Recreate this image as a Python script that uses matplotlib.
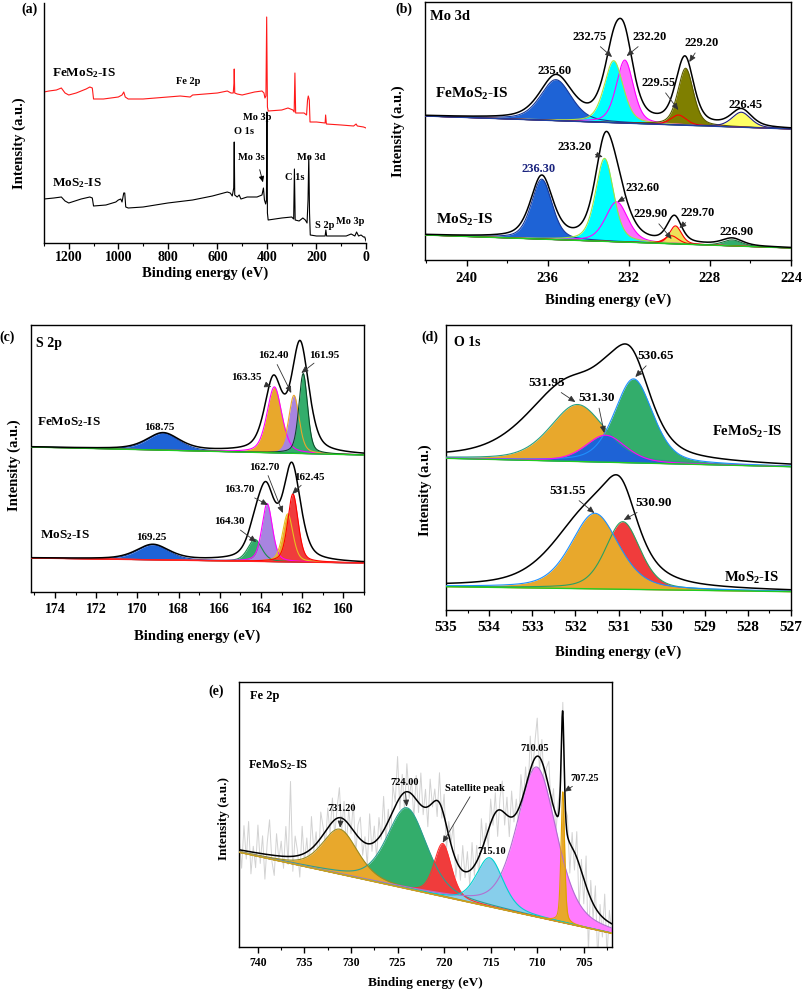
import matplotlib.pyplot as plt
import numpy as np
from matplotlib.ticker import MultipleLocator

plt.rcParams['font.family'] = ['Liberation Serif', 'DejaVu Serif']
plt.rcParams['font.weight'] = 'bold'
plt.rcParams['mathtext.fontset'] = 'custom'
plt.rcParams['mathtext.rm'] = 'Liberation Serif:bold'
plt.rcParams['mathtext.bf'] = 'Liberation Serif:bold'
plt.rcParams['mathtext.default'] = 'rm'
plt.rcParams['axes.linewidth'] = 1.0

W, H = 803, 992
FE = r'FeMoS$_2$-IS'
MO = r'MoS$_2$-IS'

# ---------------- (a) survey spectra (binding energy, intensity) ----------------
sv_fe_be = [1300, 1280, 1250, 1230, 1215, 1200, 1170, 1130, 1115, 1105, 1100, 1060, 1000, 985, 978, 972,
            960, 900, 850, 800, 750, 710, 700, 650, 600, 560, 545, 536, 533, 532, 530, 520, 500, 450,
            420, 412, 408, 404, 401, 398, 395, 340, 315, 295, 290, 287, 284, 260, 250, 240, 236, 233,
            229, 226, 200, 165, 163, 160, 100, 50, 40, 35, 10, 0]
sv_fe_int = [151, 152, 153, 155, 150, 148, 150, 154, 156, 155, 144, 144, 146, 148, 151, 146,
             144, 144, 145, 146, 147, 146, 148, 149, 150, 152, 150, 150, 160, 174, 150, 149, 148, 151,
             152, 150, 145, 147, 226, 136, 132, 133, 135, 133, 131, 170, 130, 130, 130, 128, 143, 147,
             143, 121, 121, 120, 128, 119, 118, 117, 119, 117, 116, 115]
sv_mo_be = [1300, 1260, 1230, 1215, 1200, 1150, 1115, 1105, 1100, 1050, 1010, 1000, 990, 985, 978, 974,
            970, 960, 900, 800, 700, 620, 560, 548, 540, 534, 532, 530, 520, 512, 505, 480, 440, 420,
            414, 410, 405, 402, 400, 398, 395, 340, 300, 292, 289, 286, 270, 255, 245, 238, 234, 231,
            228, 225, 200, 165, 162, 159, 80, 60, 45, 38, 30, 20, 10, 5, 0]
sv_mo_int = [44, 45, 46, 42, 40, 44, 46, 45, 37, 38, 41, 43, 44, 41, 50, 50,
             36, 35, 36, 40, 43, 47, 51, 50, 47, 55, 101, 48, 46, 48, 44, 46, 46, 48,
             55, 43, 39, 43, 131, 30, 23, 25, 26, 24, 74, 23, 22, 25, 23, 20, 43, 87,
             30, 8, 7, 7, 13, 7, 7, 9, 7, 11, 7, 8, 6, 6, 2]
sv_labels = ['Fe 2p', 'Mo 3p', 'O 1s', 'Mo 3s', 'C 1s', 'Mo 3d', 'S 2p', 'Mo 3p']
sv_label_xy = [(719, 161), (440, 125), (493, 111), (464, 86), (287, 65), (222, 86), (167, 18), (65, 21)]

# ---------------- (b) Mo 3d ----------------
mo3d_fe_bg = [144, 131]
mo3d_fe_c = [235.60, 232.20, 232.75, 229.20, 229.55, 226.45]
mo3d_fe_h = [41, 63, 62, 57, 10, 15]
mo3d_fe_w = [1.8, 1.0, 1.1, 0.9, 0.9, 1.1]
mo3d_fe_env_h = [44, 62, 60, 60, 10, 17]
mo3d_fe_env_w = [1.9, 1.1, 1.2, 1.0, 0.9, 1.2]
mo3d_mo_bg = [25, 12]
mo3d_mo_c = [236.30, 232.60, 233.20, 229.90, 229.70, 226.90]
mo3d_mo_h = [60, 40, 83, 8, 18, 6]
mo3d_mo_w = [1.2, 1.3, 1.05, 0.8, 0.7, 1.1]
mo3d_mo_env_h = [62, 42, 82, 8, 19, 7]
mo3d_mo_env_w = [1.3, 1.4, 1.15, 0.8, 0.8, 1.2]

# ---------------- (c) S 2p ----------------
s2p_fe_bg = [145, 137]
s2p_fe_c = [168.75, 163.35, 162.40, 161.95]
s2p_fe_h = [17, 66, 58, 80]
s2p_fe_w = [1.8, 0.85, 0.6, 0.5]
s2p_fe_env_c = [168.75, 163.40, 162.10]
s2p_fe_env_h = [17, 70, 108]
s2p_fe_env_w = [1.9, 1.0, 1.0]
s2p_mo_bg = [34, 29]
s2p_mo_c = [169.25, 164.30, 163.70, 162.70, 162.45]
s2p_mo_h = [15, 22, 58, 48, 68]
s2p_mo_w = [1.8, 0.8, 0.6, 0.6, 0.6]
s2p_mo_env_c = [169.25, 164.30, 163.75, 162.50]
s2p_mo_env_h = [15, 20, 65, 94]
s2p_mo_env_w = [1.9, 0.9, 1.0, 1.0]

# ---------------- (d) O 1s ----------------
o1s_fe_bg = [151.7, 143.3]
o1s_fe_c = [531.95, 530.65, 531.30]
o1s_fe_h = [57, 84, 27]
o1s_fe_w = [1.5, 1.05, 1.1]
o1s_fe_env_c = [532.2, 531.3, 530.7]
o1s_fe_env_h = [72, 25, 80]
o1s_fe_env_w = [2.2, 1.2, 1.1]
o1s_mo_bg = [23.3, 18.3]
o1s_mo_c = [530.90, 531.55]
o1s_mo_h = [67.6, 75.6]
o1s_mo_w = [0.95, 1.3]
o1s_mo_env_c = [531.65, 530.95]
o1s_mo_env_h = [76, 60]
o1s_mo_env_w = [1.95, 0.9]

# ---------------- (e) Fe 2p ----------------
fe2p_bg = [94.7, 13.7]
fe2p_c = [724.00, 731.20, 720.15, 710.05, 715.10, 707.25]
fe2p_h = [81, 45, 53, 150, 49, 131]
fe2p_w = [5.0, 4.5, 2.2, 5.0, 3.4, 0.45]
fe2p_env_c = [731.2, 724.0, 720.5, 714.3, 709.9, 707.27, 706.0]
fe2p_env_h = [50, 88, 60, 75, 150, 127, 45]
fe2p_env_w = [4.5, 5.0, 2.6, 3.5, 4.2, 0.4, 3.0]
# raw counts scatter about the fit, read every 0.25 eV from 742 eV
fe2p_raw_dev = [10, -18, 25, -8, 30, -22, 6, -15, 28, -10, 18, -25, 12, 35, -6, -20, 22, -4, 15, -12,
                30, -8, 75, -15, 20, 5, -22, 28, -10, 14, -18, 32, -5, 12, -24, 26, 8, -14, 20, -9,
                24, -16, 10, 30, -12, 18, -25, 15, -6, 28, -20, 12, 22, -14, 6, -22, 30, -8, 16, -18,
                20, -5, 34, -15, 12, -24, 26, 4, 45, -12, 20, -18, 28, -6, 14, -22, 24, -10, 32, -8,
                18, -20, 26, -4, 12, -16, 30, -10, 22, -24, 14, 2, 28, -18, 10, -12, 25, -6, 20, -15,
                26, -10, 16, -22, 32, -4, 14, -18, 24, -8, 20, -26, 12, 30, -12, 18, -20, 26, -6, 14,
                -16, 28, -8, 20, -22, 34, -10, 16, 38, -14, 22, -18, 10, 26, -12, 18, -20, 14, -6, 10,
                -8, 20, -30, 15, -18, 26, -45, 12, -25, 30, -60, 18, -15, 22, -50, 10, -20, 25, -35, 12,
                -10]

BLUE, CYAN, MAG, OLIVE, YEL = '#1E63D6', '#00FFFF', '#FF6EFF', '#7F7F00', '#FFFF66'
GREEN, ORANGE, PURPLE, RED, SKY = '#33AD6B', '#E8A82C', '#A884E0', '#F03C3C', '#87CEEB'


def pv(x, c, h, w, eta):
    u = 4.0 * (x - c) ** 2 / w ** 2
    return h * (eta / (1 + u) + (1 - eta) * np.exp(-np.log(2) * u))


def px_axes(fig, l, t, r, b):
    return fig.add_axes([l / W, 1 - b / H, (r - l) / W, (b - t) / H])


def spectrum(ax, x, bg_ends, cs, hs, ws, faces, edges, ec, eh, ew, bgcol='#22CC22'):
    bg = bg_ends[0] + (bg_ends[1] - bg_ends[0]) * (x - x[0]) / (x[-1] - x[0])
    curves = []
    for c, h, w, f in zip(cs, hs, ws, faces):
        y = bg + pv(x, c, h, w, 0.4)
        if f is not None:
            ax.fill_between(x, bg, y, color=f, lw=0, zorder=2)
        curves.append(y)
    for y, e in zip(curves, edges):
        ax.plot(x, y, color=e, lw=0.8, zorder=3)
    env = bg.copy()
    for c, h, w in zip(ec, eh, ew):
        env += pv(x, c, h, w, 0.5)
    ax.plot(x, bg, color=bgcol, lw=1.0, zorder=3)
    ax.plot(x, env, color='black', lw=1.1, zorder=4)
    return bg, env


def peak_labels(ax, texts, txt_xy, tips, fs, color='black', acol='#333333'):
    for t, xy, tip in zip(texts, txt_xy, tips):
        if tip is None:
            ax.text(xy[0], xy[1], t, ha='center', va='center', fontsize=fs, color=color, zorder=6)
        else:
            ax.annotate(t, xy=tip, xytext=xy, ha='center', va='center', fontsize=fs, color=color,
                        zorder=6, arrowprops=dict(arrowstyle='-|>,head_length=0.5,head_width=0.22',
                                                  mutation_scale=8, color=acol, lw=0.6,
                                                  shrinkA=1, shrinkB=0))


def ticks(ax, major, minor, fs, pad):
    ax.xaxis.set_major_locator(MultipleLocator(major))
    ax.xaxis.set_minor_locator(MultipleLocator(minor))
    ax.tick_params(axis='x', which='major', direction='out', length=4, width=1, labelsize=fs, pad=pad)
    ax.tick_params(axis='x', which='minor', direction='out', length=2.5, width=0.8)
    ax.set_yticks([])


def ftext(x, y, s, fs, **kw):
    fig.text(x / W, 1 - y / H, s, fontsize=fs, ha='center', va='center', **kw)


fig = plt.figure(figsize=(W / 100, H / 100), dpi=100)

# ---- (a)
ax = px_axes(fig, 44, 3, 366, 243)
ax.plot(sv_fe_be, sv_fe_int, color='#FF1A1A', lw=0.8)
ax.plot(sv_mo_be, sv_mo_int, color='black', lw=0.8)
ax.set_xlim(1300, 0)
ax.set_ylim(0, 240)
ax.spines[['top', 'right']].set_visible(False)
ticks(ax, 200, 100, 10, 2)
ax.text(1268, 170, FE, fontsize=9.5, ha='left', va='center')
ax.text(1268, 60, MO, fontsize=9.5, ha='left', va='center')
for s, xy in zip(sv_labels, sv_label_xy):
    ax.text(xy[0], xy[1], s, fontsize=7.5, ha='center', va='center')
ax.annotate('', xy=(413, 58), xytext=(432, 76),
            arrowprops=dict(arrowstyle='-|>,head_length=0.5,head_width=0.22', mutation_scale=7,
                            color='black', lw=0.6))
ftext(29.5, 9, '(a)', 10)
ftext(19, 143, 'Intensity (a.u.)', 10.5, rotation=90)
ftext(205, 273, 'Binding energy (eV)', 10.5)

# ---- (b)
ax = px_axes(fig, 425, 2, 791, 260)
x = np.linspace(242.06, 224, 1500)
spectrum(ax, x, mo3d_fe_bg, mo3d_fe_c, mo3d_fe_h, mo3d_fe_w,
         [BLUE, MAG, CYAN, OLIVE, None, YEL], ['#1A3A9A', '#FF00FF', '#B0E040', '#5A5A00', '#FF0000', '#202080'],
         mo3d_fe_c, mo3d_fe_env_h, mo3d_fe_env_w, bgcol='#2040A0')
spectrum(ax, x, mo3d_mo_bg, mo3d_mo_c, mo3d_mo_h, mo3d_mo_w,
         [BLUE, MAG, CYAN, RED, '#EEE05A', GREEN], ['#1A3A9A', '#FF00FF', '#A0E040', '#FF0000', '#FF0000', '#207040'],
         mo3d_mo_c, mo3d_mo_env_h, mo3d_mo_env_w, bgcol='#22CC22')
ax.set_xlim(242.06, 224)
ax.set_ylim(0, 258)
ticks(ax, 4, 2, 10.5, 5)
ax.text(241.8, 244, 'Mo 3d', fontsize=10.5, ha='left', va='center')
ax.text(241.57, 166, FE, fontsize=11, ha='left', va='center')
ax.text(241.5, 40, MO, fontsize=11, ha='left', va='center')
peak_labels(ax, ['%.2f' % c for c in [235.60, 232.75, 232.20, 229.55, 229.20, 226.45]],
            [(235.65, 189), (233.95, 223), (230.96, 223), (230.55, 177), (228.41, 217), (226.22, 155)],
            [None, (232.83, 203), (232.11, 204), (229.56, 150), (229.02, 198), None], 9)
peak_labels(ax, ['%.2f' % c for c in [236.30]], [(236.47, 91)], [None], 9, color='#1A237E')
peak_labels(ax, ['%.2f' % c for c in [233.20, 232.60, 229.90, 229.70, 226.90]],
            [(234.7, 113), (231.32, 72), (230.93, 46), (228.63, 47), (226.68, 28)],
            [(233.29, 103), (232.57, 58), (229.89, 21), (229.51, 32), None], 9)
ftext(404, 9, '(b)', 10)
ftext(398, 131, 'Intensity (a.u.)', 10.5, rotation=90)
ftext(608, 300, 'Binding energy (eV)', 10.5)

# ---- (c)
ax = px_axes(fig, 31, 325, 364, 592)
x = np.linspace(175.16, 159, 1500)
spectrum(ax, x, s2p_fe_bg, s2p_fe_c, s2p_fe_h, s2p_fe_w,
         [BLUE, ORANGE, PURPLE, GREEN], ['#1A4AB0', '#FF00FF', '#E8A82C', '#0C4A2A'],
         s2p_fe_env_c, s2p_fe_env_h, s2p_fe_env_w)
spectrum(ax, x, s2p_mo_bg, s2p_mo_c, s2p_mo_h, s2p_mo_w,
         [BLUE, GREEN, PURPLE, ORANGE, RED], ['#1A4AB0', '#1E8A50', '#FF00FF', '#E8C020', '#FF0000'],
         s2p_mo_env_c, s2p_mo_env_h, s2p_mo_env_w, bgcol='#FF2020')
ax.set_xlim(175.16, 159)
ax.set_ylim(0, 267)
ticks(ax, 2, 1, 10, 4)
ax.text(174.9, 249, 'S 2p', fontsize=10, ha='left', va='center')
ax.text(174.85, 170, FE, fontsize=9.5, ha='left', va='center')
ax.text(174.7, 57, MO, fontsize=9.5, ha='left', va='center')
peak_labels(ax, ['%.2f' % c for c in s2p_fe_c],
            [(168.94, 165), (164.71, 215), (163.42, 236), (160.92, 237)],
            [None, (163.5, 205), (162.53, 199), (162.04, 219)], 8)
peak_labels(ax, ['%.2f' % c for c in s2p_mo_c],
            [(169.31, 55), (165.52, 70), (165.03, 102), (163.82, 125), (161.64, 115)],
            [None, (164.23, 50), (163.66, 87), (162.94, 79), (162.48, 98)], 8)
ftext(7.5, 337, '(c)', 10)
ftext(14, 465, 'Intensity (a.u.)', 10.5, rotation=90)
ftext(197, 636, 'Binding energy (eV)', 10.5)

# ---- (d)
ax = px_axes(fig, 446, 325, 791, 610)
x = np.linspace(535, 527, 1500)
spectrum(ax, x, o1s_fe_bg, o1s_fe_c, o1s_fe_h, o1s_fe_w,
         [ORANGE, GREEN, BLUE], ['#2AA080', '#1E90FF', '#FF00FF'],
         o1s_fe_env_c, o1s_fe_env_h, o1s_fe_env_w)
spectrum(ax, x, o1s_mo_bg, o1s_mo_c, o1s_mo_h, o1s_mo_w,
         [RED, ORANGE], ['#2AA060', '#1E90FF'],
         o1s_mo_env_c, o1s_mo_env_h, o1s_mo_env_w)
ax.set_xlim(535, 527)
ax.set_ylim(0, 285)
ticks(ax, 1, 0.5, 11, 4)
ax.text(534.82, 267, 'O 1s', fontsize=10, ha='left', va='center')
ax.text(527.2, 178, FE, fontsize=10.5, ha='right', va='center')
ax.text(527.28, 32, MO, fontsize=10.5, ha='right', va='center')
peak_labels(ax, ['%.2f' % c for c in o1s_fe_c],
            [(532.66, 227), (530.14, 254), (531.5, 212)],
            [(532.0, 208), (530.61, 233), (531.33, 177)], 9.5)
peak_labels(ax, ['%.2f' % c for c in o1s_mo_c],
            [(530.18, 107), (532.19, 119)],
            [(530.88, 90), (531.56, 97)], 9.5)
ftext(430, 337, '(d)', 10)
ftext(425, 490, 'Intensity (a.u.)', 10.5, rotation=90)
ftext(618, 652, 'Binding energy (eV)', 10.5)

# ---- (e)
ax = px_axes(fig, 239.3, 682, 611.7, 947)
x = np.linspace(742, 702, 2000)
bg, env = spectrum(ax, x, fe2p_bg, fe2p_c, fe2p_h, fe2p_w,
                   [GREEN, ORANGE, RED, '#FF7BFF', SKY, ORANGE],
                   ['#2AA090', '#9A8A20', '#FF3030', '#B070D0', '#00D0D0', '#E0A000'],
                   fe2p_env_c, fe2p_env_h, fe2p_env_w, bgcol='#C8A020')
be_raw = 742 - 0.25 * np.arange(len(fe2p_raw_dev))
ax.plot(be_raw, np.interp(be_raw, x[::-1], env[::-1]) + np.array(fe2p_raw_dev),
        color='#D2D2D2', lw=0.7, zorder=1)
ax.set_xlim(742, 702)
ax.set_ylim(0, 265)
ticks(ax, 5, 2.5, 8.5, 3)
ax.text(740.85, 251, 'Fe 2p', fontsize=9, ha='left', va='center')
ax.text(741.03, 182, FE, fontsize=9, ha='left', va='center')
peak_labels(ax, ['%.2f' % fe2p_c[1], '%.2f' % fe2p_c[0], 'Satellite peak', '%.2f' % fe2p_c[4],
                 '%.2f' % fe2p_c[3], '%.2f' % fe2p_c[5]],
            [(731.0, 138.7), (724.23, 164.3), (716.68, 158.7), (714.89, 95.3), (710.24, 198.7), (704.9, 168.7)],
            [(731.18, 119.3), (724.02, 140.3), (720.15, 104.3), None, None, (707.1, 155.3)], 7.5)
ftext(216.6, 691, '(e)', 10)
ftext(224, 818, 'Intensity (a.u.)', 9.5, rotation=90)
ftext(425, 983, 'Binding energy (eV)', 9.5)

fig.savefig('out.png', dpi=100)
